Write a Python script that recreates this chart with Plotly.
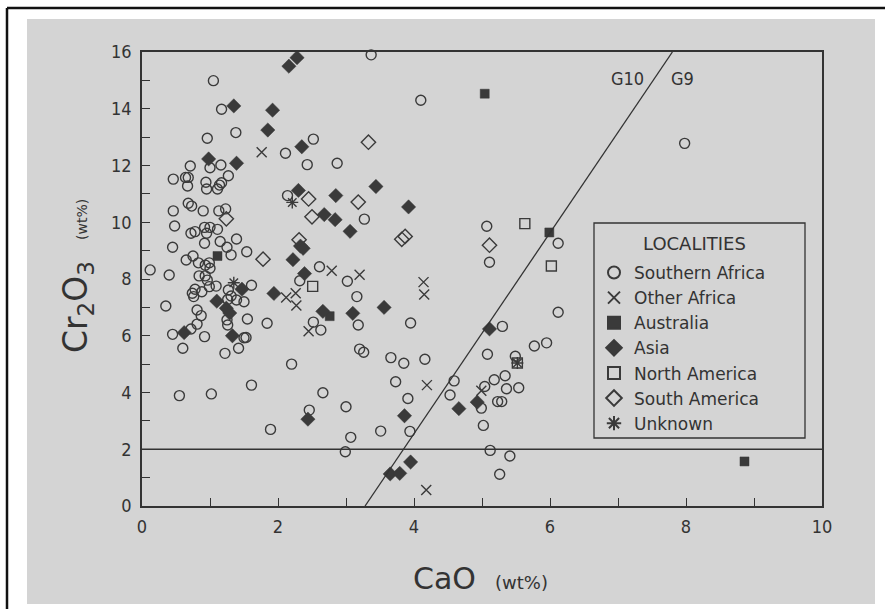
import plotly.graph_objects as go

# ---------------- data (CaO wt%, Cr2O3 wt%) ----------------
southern_africa_cao = [3.37, 1.05, 4.10, 1.17, 1.38, 0.96, 2.52, 2.11, 2.43, 2.87, 7.98,
    0.71, 1.00, 1.16, 1.27, 0.46, 0.64, 0.68, 0.67, 0.94, 0.95, 1.11, 1.14, 1.17,
    2.14, 3.27,
    0.46, 0.68, 0.73, 0.90, 1.13, 1.23,
    0.48, 0.72, 0.78, 0.92, 1.00, 1.11, 0.95, 0.92, 1.15, 1.25, 1.39, 1.31, 1.54, 0.45,
    0.65, 0.75, 0.83, 0.93, 0.99, 1.00, 0.12, 0.40, 0.84, 0.93, 0.96, 0.99, 1.09, 0.78,
    0.74, 0.76, 0.88, 1.26, 1.27, 1.31, 1.39, 1.50, 1.61, 0.35, 0.81, 0.87, 1.25, 1.26,
    1.55, 0.72, 0.81, 0.45, 0.92, 1.50, 1.53, 0.60, 1.22, 1.42, 1.84,
    0.55, 1.02, 1.61, 2.20, 1.89, 2.46, 2.66, 3.00, 3.07, 2.99,
    2.61, 2.32, 2.52, 2.63, 3.02, 3.16, 3.18, 3.20, 3.26, 3.51,
    3.95, 3.66, 3.85, 4.16, 3.73, 3.91, 3.94, 4.59, 4.53,
    5.07, 5.11, 6.12, 6.12, 5.30, 5.77, 5.95, 5.08, 5.49, 5.34, 5.18, 5.04, 5.36, 5.54,
    4.99, 5.02, 5.23, 5.29, 5.12, 5.41, 5.26]
southern_africa_cr = [15.90, 14.99, 14.30, 13.98, 13.16, 12.96, 12.93, 12.43, 12.03, 12.08, 12.78,
    11.98, 11.92, 12.02, 11.64, 11.52, 11.58, 11.58, 11.28, 11.41, 11.17, 11.17, 11.31, 11.39,
    10.94, 10.11,
    10.40, 10.67, 10.57, 10.40, 10.40, 10.47,
    9.87, 9.61, 9.67, 9.82, 9.82, 9.75, 9.61, 9.26, 9.32, 9.12, 9.41, 8.85, 8.96, 9.12,
    8.67, 8.81, 8.57, 8.49, 8.57, 8.38, 8.32, 8.14, 8.11, 8.11, 7.96, 7.73, 7.75, 7.64,
    7.50, 7.38, 7.55, 7.28, 7.61, 7.40, 7.26, 7.20, 7.78, 7.05, 6.91, 6.71, 6.56, 6.38,
    6.59, 6.24, 6.41, 6.05, 5.97, 5.93, 5.94, 5.56, 5.38, 5.56, 6.44,
    3.89, 3.95, 4.26, 5.00, 2.70, 3.38, 3.99, 3.50, 2.42, 1.91,
    8.43, 7.94, 6.48, 6.20, 7.92, 7.38, 6.38, 5.53, 5.42, 2.64,
    6.45, 5.23, 5.03, 5.17, 4.38, 3.79, 2.63, 4.41, 3.91,
    9.86, 8.59, 9.26, 6.83, 6.33, 5.64, 5.75, 5.35, 5.28, 4.59, 4.45, 4.21, 4.13, 4.17,
    3.45, 2.84, 3.68, 3.68, 1.96, 1.76, 1.12]

other_africa_cao = [1.76, 2.79, 3.20, 2.26, 2.12, 2.27, 2.45, 4.14, 4.15, 4.19, 4.99, 4.18]
other_africa_cr = [12.47, 8.29, 8.15, 7.50, 7.35, 7.07, 6.16, 7.89, 7.45, 4.26, 4.06, 0.56]

australia_cao = [5.04, 5.99, 8.86, 1.11, 2.76]
australia_cr = [14.53, 9.64, 1.57, 8.81, 6.69]

asia_cao = [2.28, 2.16, 1.92, 1.85, 2.35, 1.35, 0.98, 1.39, 2.30, 2.85, 3.44, 3.92, 2.68,
    2.84, 3.06, 2.33, 2.37, 2.22, 2.39, 1.94, 2.66, 3.10, 3.56, 0.62, 1.10, 1.24, 1.29,
    1.33, 1.47, 5.11, 3.86, 4.66, 4.93, 3.95, 3.65, 3.79, 2.44]
asia_cr = [15.80, 15.50, 13.95, 13.25, 12.66, 14.10, 12.23, 12.08, 11.12, 10.94, 11.26, 10.54, 10.27,
    10.09, 9.68, 9.16, 9.08, 8.68, 8.19, 7.49, 6.86, 6.79, 7.00, 6.11, 7.22, 6.97, 6.80,
    6.00, 7.64, 6.24, 3.18, 3.43, 3.66, 1.55, 1.13, 1.15, 3.06]

north_america_cao = [5.63, 6.02, 2.51, 5.52]
north_america_cr = [9.95, 8.46, 7.74, 5.04]

south_america_cao = [3.33, 2.45, 2.50, 3.18, 3.82, 3.87, 2.31, 1.78, 5.11, 1.24]
south_america_cr = [12.82, 10.82, 10.19, 10.71, 9.40, 9.50, 9.38, 8.70, 9.19, 10.12]

unknown_cao = [2.21, 1.35, 5.52]
unknown_cr = [10.70, 7.87, 5.04]

x_tick_labels = ["0", "2", "4", "6", "8", "10"]
y_tick_labels = ["0", "2", "4", "6", "8", "10", "12", "14", "16"]
x_tick_vals = [int(t) for t in x_tick_labels]
y_tick_vals = [int(t) for t in y_tick_labels]

# G10/G9 dividing line end points and the 2 wt% Cr2O3 line
g_line_cao = [3.28, 7.80]
g_line_cr = [0.0, 16.0]
cr_limit = 2.0

# ---------------- styling ----------------
INK = "#333333"
MK = "#3a3a3a"
GRAY = "#d4d4d4"
W, H = 885, 609
L, R, T, B = 142, 63, 52, 103
PW, PH = W - L - R, H - T - B


def px2paper_x(px):
    return (px - L) / PW


def px2paper_y(py):
    return (H - B - py) / PH


series = [
    ("Southern Africa", southern_africa_cao, southern_africa_cr,
     dict(symbol="circle-open", size=10, color=MK, line=dict(width=1.4, color=MK))),
    ("Other Africa", other_africa_cao, other_africa_cr,
     dict(symbol="x-thin-open", size=10, color=MK, line=dict(width=1.4, color=MK))),
    ("Australia", australia_cao, australia_cr,
     dict(symbol="square", size=9, color=MK, line=dict(width=0.5, color=MK))),
    ("Asia", asia_cao, asia_cr,
     dict(symbol="diamond", size=11, color=MK, line=dict(width=0.5, color=MK))),
    ("North America", north_america_cao, north_america_cr,
     dict(symbol="square-open", size=10, color=MK, line=dict(width=1.4, color=MK))),
    ("South America", south_america_cao, south_america_cr,
     dict(symbol="diamond-open", size=11, color=MK, line=dict(width=1.4, color=MK))),
    ("Unknown", unknown_cao, unknown_cr,
     dict(symbol="asterisk-open", size=10, color=MK, line=dict(width=1.4, color=MK))),
]

fig = go.Figure()
for name, xs, ys, mk in series:
    fig.add_trace(go.Scatter(x=xs, y=ys, mode="markers", name=name, marker=mk,
                             cliponaxis=False))

FONT = "DejaVu Sans, Liberation Sans, sans-serif"
TICKFONT = "Liberation Sans Narrow, DejaVu Sans Condensed, Liberation Sans, sans-serif"

shapes = [
    # gray scanned page
    dict(type="rect", xref="paper", yref="paper",
         x0=px2paper_x(27), x1=px2paper_x(875), y0=px2paper_y(604), y1=px2paper_y(19),
         fillcolor=GRAY, line=dict(width=0), layer="below"),
    # outer black border (left and top visible)
    dict(type="line", xref="paper", yref="paper",
         x0=px2paper_x(7), x1=px2paper_x(7), y0=px2paper_y(612), y1=px2paper_y(8),
         line=dict(color="#111111", width=2.5)),
    dict(type="line", xref="paper", yref="paper",
         x0=px2paper_x(7), x1=px2paper_x(890), y0=px2paper_y(8), y1=px2paper_y(8),
         line=dict(color="#111111", width=2.5)),
    # legend frame
    dict(type="rect", xref="paper", yref="paper",
         x0=px2paper_x(594), x1=px2paper_x(805), y0=px2paper_y(438), y1=px2paper_y(223),
         line=dict(color=INK, width=1.3), fillcolor="rgba(0,0,0,0)"),
    # reference lines
    dict(type="line", xref="x", yref="y", x0=0, x1=10, y0=cr_limit, y1=cr_limit,
         line=dict(color=INK, width=1.4)),
    dict(type="line", xref="x", yref="y", x0=g_line_cao[0], x1=g_line_cao[1],
         y0=g_line_cr[0], y1=g_line_cr[1], line=dict(color=INK, width=1.3)),
]

annotations = [
    dict(x=7.14, y=15.05, xref="x", yref="y", text="G10", showarrow=False,
         xanchor="center", yanchor="middle",
         font=dict(family=TICKFONT, size=18, color=INK)),
    dict(x=7.95, y=15.05, xref="x", yref="y", text="G9", showarrow=False,
         xanchor="center", yanchor="middle",
         font=dict(family=TICKFONT, size=18, color=INK)),
    dict(x=px2paper_x(480), y=px2paper_y(578), xref="paper", yref="paper",
         xanchor="center", yanchor="middle",
         text="CaO  <span style='font-size:18px'>(wt%)</span>", showarrow=False,
         font=dict(family=FONT, size=30, color=INK)),
    dict(x=px2paper_x(77), y=px2paper_y(276), xref="paper", yref="paper", textangle=-90,
         xanchor="center", yanchor="middle",
         text="Cr<sub>2</sub>O<sub>3</sub>  <span style='font-size:14px'>(wt%)</span>",
         showarrow=False, font=dict(family=FONT, size=33, color=INK)),
    dict(x=px2paper_x(694), y=px2paper_y(244), xref="paper", yref="paper",
         xanchor="center", yanchor="middle", text="LOCALITIES", showarrow=False,
         font=dict(family=FONT, size=18, color=INK)),
]

axis_common = dict(showline=True, linecolor=INK, linewidth=1.5, mirror=True,
                   ticks="inside", ticklen=8, tickwidth=1.3, tickcolor=INK,
                   minor=dict(dtick=1, ticks="inside", ticklen=8, tickwidth=1.3,
                              tickcolor=INK, showgrid=False),
                   showgrid=False, zeroline=False,
                   tickfont=dict(family=TICKFONT, size=18, color=INK))

fig.update_layout(
    width=W, height=H,
    margin=dict(l=L, r=R, t=T, b=B),
    paper_bgcolor="white", plot_bgcolor=GRAY,
    xaxis=dict(range=[0, 10], tickvals=x_tick_vals, ticktext=x_tick_labels,
               ticklabelstandoff=4, **axis_common),
    yaxis=dict(range=[0, 16], tickvals=y_tick_vals, ticktext=y_tick_labels,
               ticklabelstandoff=5, **axis_common),
    shapes=shapes,
    annotations=annotations,
    showlegend=True,
    legend=dict(x=px2paper_x(594), y=px2paper_y(255), xanchor="left", yanchor="top",
                bgcolor="rgba(0,0,0,0)", borderwidth=0,
                font=dict(family=FONT, size=17, color=INK),
                itemsizing="constant"),
)

fig.write_html("out.html", config={"displayModeBar": False},
               post_script="document.body.style.margin='0px';")
